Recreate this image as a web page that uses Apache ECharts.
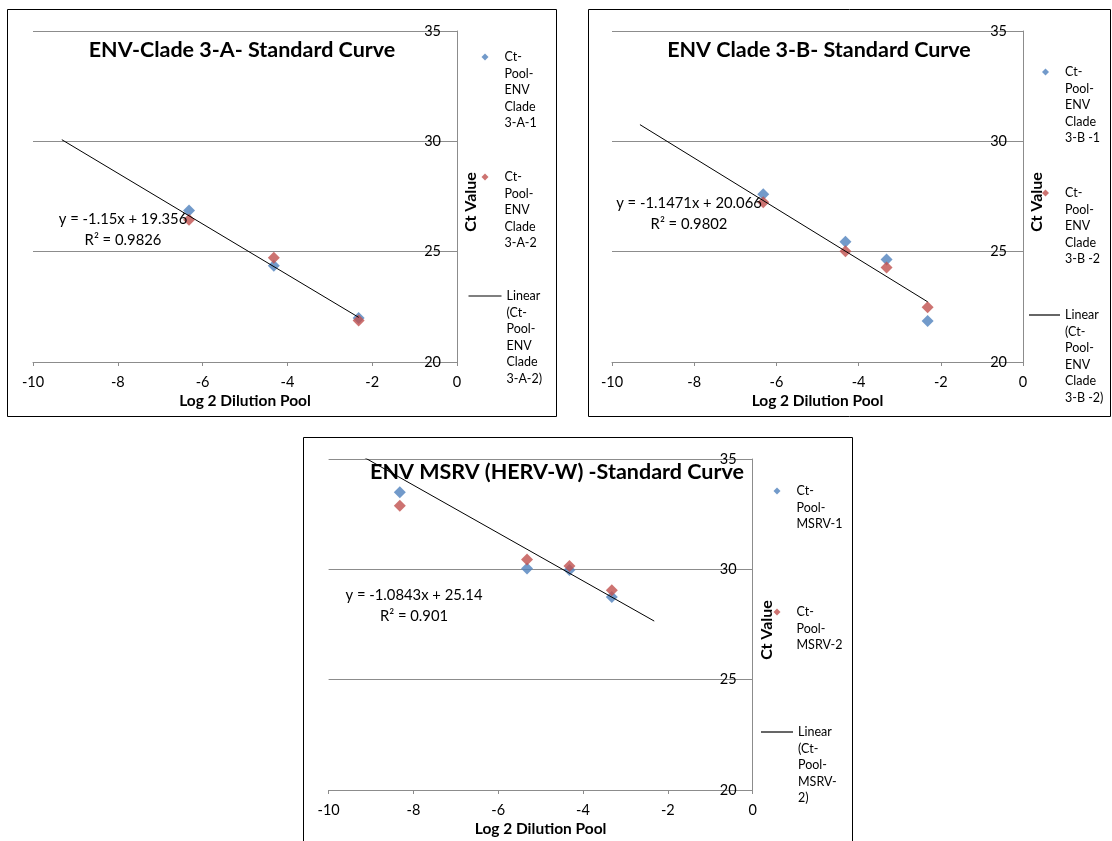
<!DOCTYPE html>
<html>
<head>
<meta charset="utf-8">
<script src="https://cdn.jsdelivr.net/npm/echarts@6/dist/echarts.min.js"></script>
<style>
html,body{margin:0;padding:0;background:#fff;}
#c{width:1112px;height:841px;}
</style>
</head>
<body>
<div id="c"></div>
<script>
// ---- data ----
const xA = [-6.32, -4.32, -2.32];
const ctA1 = [26.87, 24.36, 21.99];
const ctA2 = [26.45, 24.72, 21.88];

const xB = [-6.32, -4.32, -3.32, -2.32];
const ctB1 = [27.6, 25.45, 24.65, 21.86];
const ctB2 = [27.24, 25.02, 24.28, 22.48];

const xM = [-8.32, -5.32, -4.32, -3.32];
const ctM1 = [33.49, 30.04, 29.97, 28.75];
const ctM2 = [32.88, 30.45, 30.15, 29.05];

const titles = ['ENV-Clade 3-A- Standard Curve', 'ENV Clade 3-B- Standard Curve', 'ENV MSRV (HERV-W) -Standard Curve'];
const seriesNames = [
  ['Ct-Pool-ENV Clade 3-A-1', 'Ct-Pool-ENV Clade 3-A-2', 'Linear (Ct-Pool-ENV Clade 3-A-2)'],
  ['Ct-Pool-ENV Clade 3-B -1', 'Ct-Pool-ENV Clade 3-B -2', 'Linear (Ct-Pool-ENV Clade 3-B -2)'],
  ['Ct-Pool-MSRV-1', 'Ct-Pool-MSRV-2', 'Linear (Ct-Pool-MSRV-2)']
];
const legendLabels = [
  ['Ct-\nPool-\nENV\nClade\n3-A-1', 'Ct-\nPool-\nENV\nClade\n3-A-2', 'Linear\n(Ct-\nPool-\nENV\nClade\n3-A-2)'],
  ['Ct-\nPool-\nENV\nClade\n3-B -1', 'Ct-\nPool-\nENV\nClade\n3-B -2', 'Linear\n(Ct-\nPool-\nENV\nClade\n3-B -2)'],
  ['Ct-\nPool-\nMSRV-1', 'Ct-\nPool-\nMSRV-2', 'Linear\n(Ct-\nPool-\nMSRV-\n2)']
];
const slopes = [-1.15, -1.1471, -1.0843];
const intercepts = [19.356, 20.066, 25.14];
const eqTexts = ['y = -1.15x + 19.356', 'y = -1.1471x + 20.066', 'y = -1.0843x + 25.14'];
const r2Texts = ['R² = 0.9826', 'R² = 0.9802', 'R² = 0.901'];
const backwardForecast = [3, 3, 3];
const forwardForecast = [0, 0, 1];
const xTickLabels = ['-10', '-8', '-6', '-4', '-2', '0'];
const yTickLabels = ['20', '25', '30', '35'];
const xAxisTitle = 'Log 2 Dilution Pool';
const yAxisTitle = 'Ct Value';

// ---- layout ----
const FONT = 'Lato, "Open Sans", sans-serif';
const BLUE = '#4F81BD', RED = '#C0504D', GRID = '#8C8C8C';
const grids = [
  {left: 33, top: 31, width: 424, height: 331},
  {left: 612, top: 31, width: 411, height: 331},
  {left: 328.6, top: 459, width: 424, height: 331}
];
const frames = [
  {x: 7.5, y: 9.5, w: 549, h: 407},
  {x: 588.5, y: 9.5, w: 522, h: 407},
  {x: 303.5, y: 437.5, w: 549, h: 420}
];
const titlePos = [[242, 50], [819, 50], [557, 472]];
const eqPos = [[123, 219, 240], [689, 203, 224], [414, 595, 616]];
const legendPos = [
  {mk: 485, line: [468.5, 33], ys: [57, 177, 296]},
  {mk: 1045.5, line: [1029, 31], ys: [72, 193, 315]},
  {mk: 777, line: [761, 32], ys: [491, 612, 732]}
];

const xs = [xA, xB, xM];
const c1 = [ctA1, ctB1, ctM1];
const c2 = [ctA2, ctB2, ctM2];

const option = {
  backgroundColor: '#fff',
  animation: false,
  textStyle: {fontFamily: FONT},
  grid: grids.map(g => Object.assign({containLabel: false}, g)),
  xAxis: grids.map((g, i) => ({
    gridIndex: i, type: 'value', min: -10, max: 0, interval: 2,
    name: xAxisTitle, nameLocation: 'middle', nameGap: 31,
    nameTextStyle: {fontFamily: FONT, fontWeight: 'bold', fontSize: 15.5, color: '#000'},
    axisLine: {show: true, onZero: false, lineStyle: {color: GRID, width: 1}},
    axisTick: {show: true, inside: false, length: 4, lineStyle: {color: GRID}},
    axisLabel: {fontFamily: FONT, fontSize: 14.5, color: '#000', margin: 13,
      formatter: v => xTickLabels[Math.round((v + 10) / 2)]},
    splitLine: {show: false}
  })),
  yAxis: grids.map((g, i) => ({
    gridIndex: i, type: 'value', min: 20, max: 35, interval: 5, position: 'right',
    name: yAxisTitle, nameLocation: 'middle', nameRotate: 90, nameGap: 6,
    nameTextStyle: {fontFamily: FONT, fontWeight: 'bold', fontSize: 16, color: '#000', padding: [0, 11, 0, 0]},
    axisLine: {show: true, onZero: false, lineStyle: {color: GRID, width: 1}},
    axisTick: {show: false},
    axisLabel: {inside: true, fontFamily: FONT, fontSize: 14.5, color: '#000', margin: 16,
      formatter: v => yTickLabels[Math.round((v - 20) / 5)]},
    splitLine: {show: true, lineStyle: {color: GRID, width: 1}}
  })),
  legend: [],
  series: [],
  graphic: []
};

for (let i = 0; i < 3; i++) {
  const x = xs[i];
  option.series.push({
    name: seriesNames[i][0], type: 'scatter', xAxisIndex: i, yAxisIndex: i,
    symbol: 'diamond', symbolSize: 12, itemStyle: {color: BLUE},
    data: x.map((v, k) => [v, c1[i][k]]), z: 2
  });
  option.series.push({
    name: seriesNames[i][1], type: 'scatter', xAxisIndex: i, yAxisIndex: i,
    symbol: 'diamond', symbolSize: 12, itemStyle: {color: RED},
    data: x.map((v, k) => [v, c2[i][k]]), z: 3
  });
  const xStart = x[0] - backwardForecast[i], xEnd = x[x.length - 1] + forwardForecast[i];
  option.series.push({
    name: seriesNames[i][2], type: 'line', xAxisIndex: i, yAxisIndex: i,
    showSymbol: false, symbol: 'none', clip: true,
    lineStyle: {color: '#000', width: 1}, itemStyle: {color: '#000'},
    data: [[xStart, slopes[i] * xStart + intercepts[i]], [xEnd, slopes[i] * xEnd + intercepts[i]]], z: 4
  });

  // legends: one per entry; blank lines put the first text line level with the icon
  const lp = legendPos[i];
  const L = 16.5;
  for (let k = 0; k < 3; k++) {
    const lbl = legendLabels[i][k];
    const n = lbl.split('\n').length;
    const shown = new Array(n - 1).fill(' ').join('\n') + '\n' + lbl;
    const H = (2 * n - 1) * L;
    const isLine = k === 2;
    option.legend.push({
      show: true, orient: 'vertical', padding: 0, selectedMode: false,
      left: isLine ? lp.line[0] : lp.mk - 3.5,
      top: lp.ys[k] - H / 2,
      itemWidth: isLine ? lp.line[1] : 7,
      itemHeight: isLine ? 1.2 : 7,
      data: [{name: seriesNames[i][k], icon: isLine ? 'rect' : 'diamond'}],
      formatter: () => shown,
      textStyle: {fontFamily: FONT, fontSize: 12.5, lineHeight: L, color: '#000',
        padding: [0, 0, 0, isLine ? 0 : 11]}
    });
  }

  // frame
  const f = frames[i];
  option.graphic.push({type: 'rect', shape: {x: f.x, y: f.y, width: f.w, height: f.h},
    style: {fill: null, stroke: '#000', lineWidth: 1}, z: 0, silent: true});
  // title
  option.graphic.push({type: 'text', x: titlePos[i][0], y: titlePos[i][1], z: 10,
    style: {text: titles[i], fill: '#000', font: 'bold 21.5px ' + FONT, align: 'center', verticalAlign: 'middle'}});
  // trendline equation
  option.graphic.push({type: 'text', x: eqPos[i][0], y: eqPos[i][1], z: 10,
    style: {text: eqTexts[i], fill: '#000', font: '14.8px ' + FONT, align: 'center', verticalAlign: 'middle'}});
  option.graphic.push({type: 'text', x: eqPos[i][0], y: eqPos[i][2], z: 10,
    style: {text: r2Texts[i], fill: '#000', font: '14.8px ' + FONT, align: 'center', verticalAlign: 'middle'}});
}

const chart = echarts.init(document.getElementById('c'), null, {renderer: 'canvas'});
chart.setOption(option);
</script>
</body>
</html>
